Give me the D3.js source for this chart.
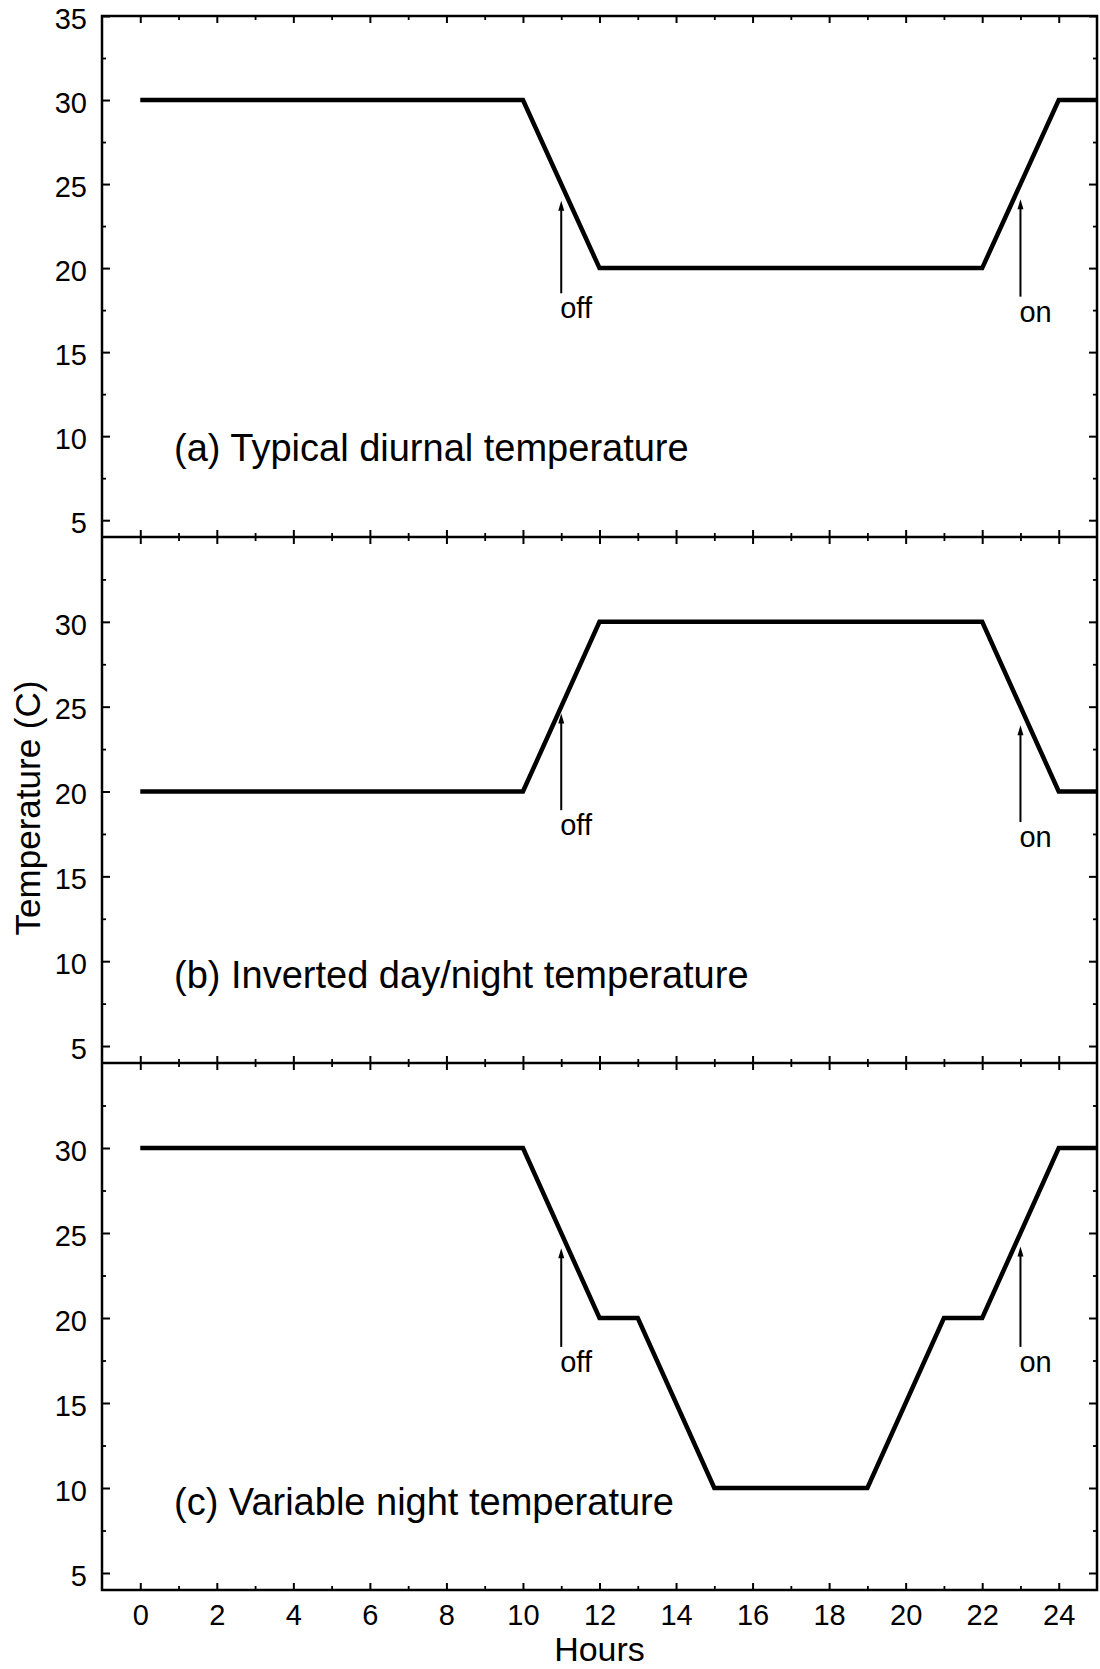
<!DOCTYPE html>
<html>
<head>
<meta charset="utf-8">
<script src="https://cdn.jsdelivr.net/npm/d3@7"></script>
<style>
  body { margin: 0; background: #fff; }
  svg { display: block; font-family: "Liberation Sans", Arial, Helvetica, sans-serif; }
</style>
</head>
<body>
<svg id="chart" width="1100" height="1669"></svg>
<script>
// Temperature set-point schedules: hour of day -> temperature (C)
const hoursA = [0, 10, 12, 22, 24, 25];
const tempsA = [30, 30, 20, 20, 30, 30];

const hoursB = [0, 10, 12, 22, 24, 25];
const tempsB = [20, 20, 30, 30, 20, 20];

const hoursC = [0, 10, 12, 13, 15, 19, 21, 22, 24, 25];
const tempsC = [30, 30, 20, 20, 10, 10, 20, 20, 30, 30];

const panelTitles = [
  "(a) Typical diurnal temperature",
  "(b) Inverted day/night temperature",
  "(c) Variable night temperature"
];

// Lights off / on markers: hour, arrow tip and tail temperature per panel
const arrowLabels = ["off", "on"];
const arrowHours = [11, 23];
const arrowTips = [[24.0, 24.1], [24.6, 23.9], [24.1, 24.2]];
const arrowTails = [[18.5, 18.3], [18.9, 18.2], [18.3, 18.3]];

// Axis ticks
const xMajorTicks = [0, 2, 4, 6, 8, 10, 12, 14, 16, 18, 20, 22, 24];
const xMinorTicks = [1, 3, 5, 7, 9, 11, 13, 15, 17, 19, 21, 23];
const yMajorTicks = [5, 10, 15, 20, 25, 30, 35];
const yMinorTicks = [7.5, 12.5, 17.5, 22.5, 27.5, 32.5];

const series = [
  hoursA.map((h, i) => [h, tempsA[i]]),
  hoursB.map((h, i) => [h, tempsB[i]]),
  hoursC.map((h, i) => [h, tempsC[i]])
];

const svg = d3.select("#chart");
const FONT = "'Liberation Sans', Arial, Helvetica, sans-serif";

const left = 102, right = 1097;
const edges = [16, 537, 1063, 1590];

const x = d3.scaleLinear().domain([-1, 25]).range([left, right]);

function styleAxis(g, fontSize) {
  g.select(".domain").remove();
  g.attr("font-family", FONT).attr("font-size", fontSize);
  g.selectAll("text").attr("fill", "#000");
  g.selectAll("line").attr("stroke", "#000");
}

series.forEach((data, i) => {
  const top = edges[i], bottom = edges[i + 1];
  const y = d3.scaleLinear().domain([4, 35]).range([bottom, top]);
  const g = svg.append("g");

  const majorY = i === 0 ? yMajorTicks : yMajorTicks.filter(v => v < 35);

  // left axis: labelled major ticks, short minor ticks, all pointing inward
  g.append("g")
    .attr("transform", `translate(${left},0)`)
    .call(d3.axisLeft(y).tickValues(majorY).tickSize(-8).tickPadding(15))
    .call(a => styleAxis(a, 29))
    .call(a => a.selectAll("text").attr("dy", "0.42em"))
    .call(a => a.selectAll("line").attr("stroke-width", 2));
  g.append("g")
    .attr("transform", `translate(${left},0)`)
    .call(d3.axisLeft(y).tickValues(yMinorTicks).tickSize(-4).tickFormat(""))
    .call(a => styleAxis(a, 29))
    .call(a => a.selectAll("line").attr("stroke-width", 1.8));

  // right axis ticks
  g.append("g")
    .attr("transform", `translate(${right},0)`)
    .call(d3.axisRight(y).tickValues(majorY).tickSize(-8).tickFormat(""))
    .call(a => styleAxis(a, 29))
    .call(a => a.selectAll("line").attr("stroke-width", 2));
  g.append("g")
    .attr("transform", `translate(${right},0)`)
    .call(d3.axisRight(y).tickValues(yMinorTicks).tickSize(-4).tickFormat(""))
    .call(a => styleAxis(a, 29))
    .call(a => a.selectAll("line").attr("stroke-width", 1.8));

  // top ticks (pointing down)
  g.append("g")
    .attr("transform", `translate(0,${top})`)
    .call(d3.axisTop(x).tickValues(xMajorTicks).tickSize(-7).tickFormat(""))
    .call(a => styleAxis(a, 29))
    .call(a => a.selectAll("line").attr("stroke-width", 2));
  g.append("g")
    .attr("transform", `translate(0,${top})`)
    .call(d3.axisTop(x).tickValues(xMinorTicks).tickSize(-4).tickFormat(""))
    .call(a => styleAxis(a, 29))
    .call(a => a.selectAll("line").attr("stroke-width", 1.8));

  // bottom ticks (pointing up); hour labels only on the last panel
  const bottomMajor = d3.axisBottom(x).tickValues(xMajorTicks).tickSize(-7).tickPadding(14);
  if (i < 2) bottomMajor.tickFormat("");
  g.append("g")
    .attr("transform", `translate(0,${bottom})`)
    .call(bottomMajor)
    .call(a => styleAxis(a, 29))
    .call(a => a.selectAll("line").attr("stroke-width", 2));
  g.append("g")
    .attr("transform", `translate(0,${bottom})`)
    .call(d3.axisBottom(x).tickValues(xMinorTicks).tickSize(-4).tickFormat(""))
    .call(a => styleAxis(a, 29))
    .call(a => a.selectAll("line").attr("stroke-width", 1.8));

  // schedule line
  g.append("path")
    .datum(data)
    .attr("fill", "none")
    .attr("stroke", "#000")
    .attr("stroke-width", 4.5)
    .attr("stroke-linejoin", "miter")
    .attr("d", d3.line().x(d => x(d[0])).y(d => y(d[1])));

  // off / on arrows
  arrowHours.forEach((h, k) => {
    const ax = x(h);
    const yTip = y(arrowTips[i][k]);
    const yTail = y(arrowTails[i][k]);
    g.append("line")
      .attr("x1", ax).attr("x2", ax)
      .attr("y1", yTail).attr("y2", yTip + 6)
      .attr("stroke", "#000").attr("stroke-width", 2);
    g.append("path")
      .attr("d", `M${ax},${yTip} L${ax - 3},${yTip + 10} L${ax + 3},${yTip + 10} Z`)
      .attr("fill", "#000");
    g.append("text")
      .attr("x", ax - 1)
      .attr("y", yTail + 25)
      .attr("font-family", FONT)
      .attr("font-size", 29)
      .text(arrowLabels[k]);
  });

  // panel title
  g.append("text")
    .attr("x", 174)
    .attr("y", y(i === 0 ? 8.55 : 8.4))
    .attr("font-family", FONT)
    .attr("font-size", 38)
    .text(panelTitles[i]);
});

// frame
svg.append("path")
  .attr("fill", "none")
  .attr("stroke", "#000")
  .attr("stroke-width", 2.5)
  .attr("d", `M${left},${edges[0]}H${right}V${edges[3]}H${left}Z` +
    `M${left},${edges[1]}H${right}M${left},${edges[2]}H${right}`);

// axis titles
svg.append("text")
  .attr("x", (left + right) / 2)
  .attr("y", 1661)
  .attr("text-anchor", "middle")
  .attr("font-family", FONT)
  .attr("font-size", 34)
  .text("Hours");

svg.append("text")
  .attr("transform", `translate(40,808) rotate(-90)`)
  .attr("text-anchor", "middle")
  .attr("font-family", FONT)
  .attr("font-size", 35)
  .text("Temperature (C)");
</script>
</body>
</html>
